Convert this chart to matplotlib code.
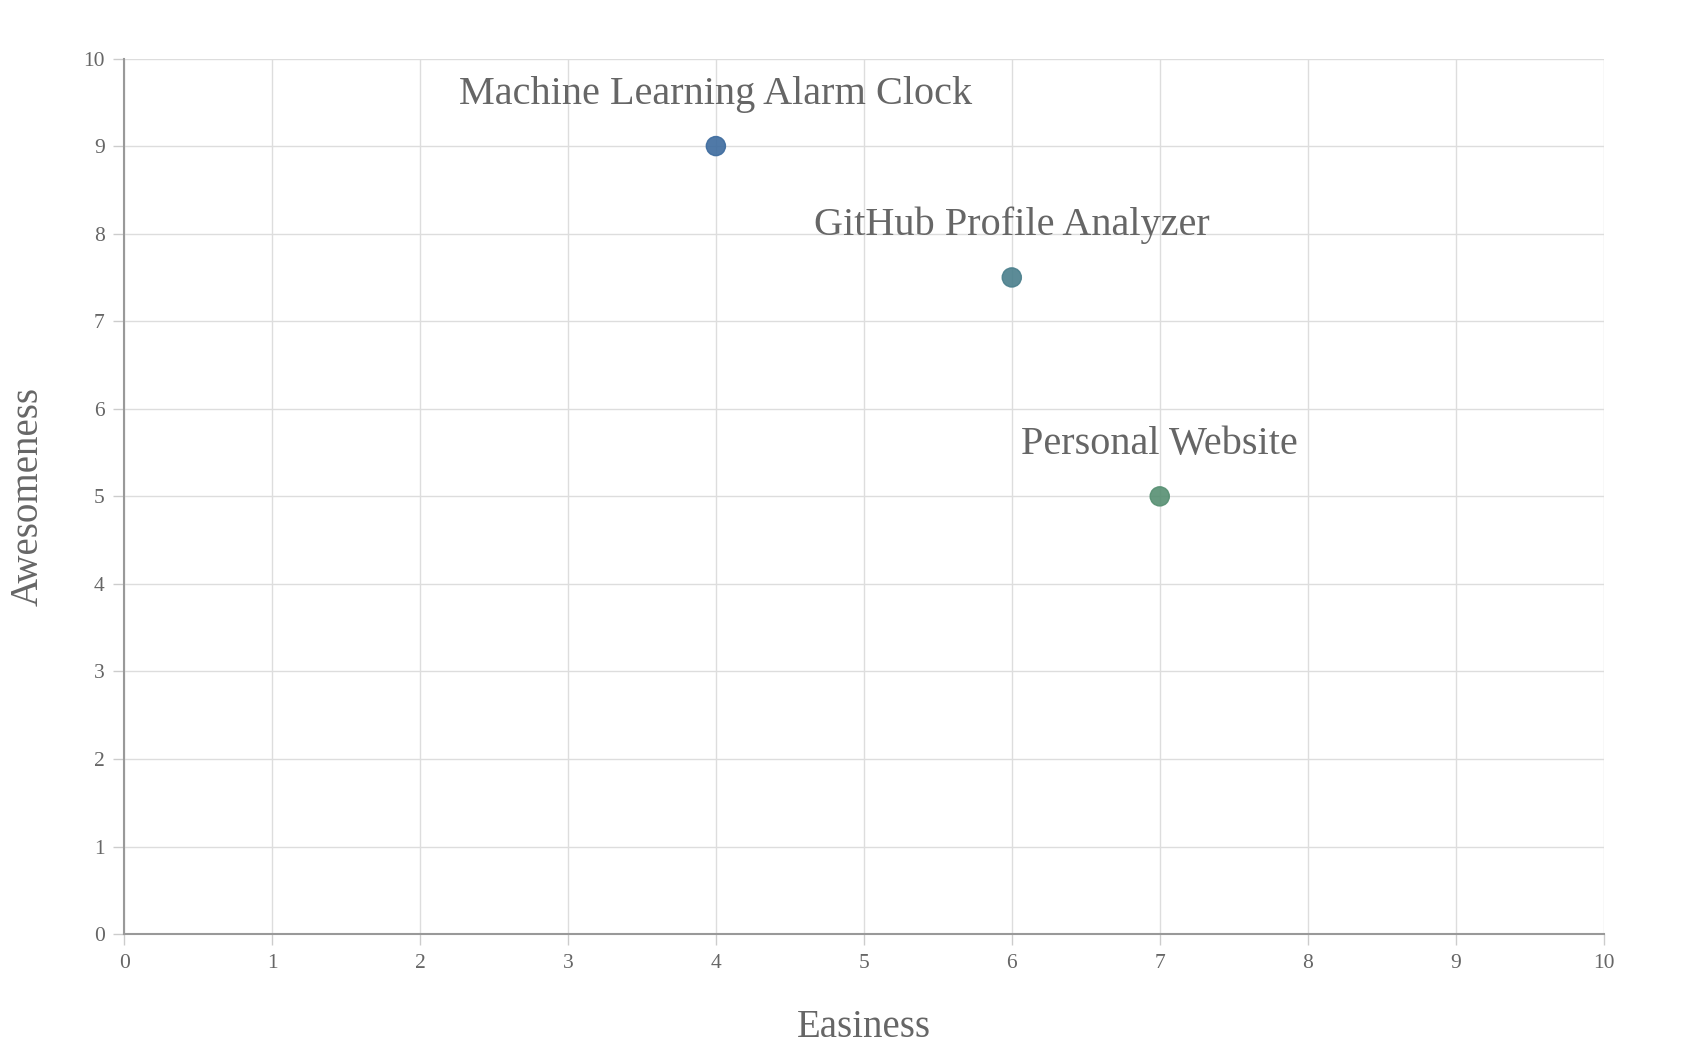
import matplotlib
matplotlib.use('Agg')
import matplotlib.pyplot as plt

projects = ['Machine Learning Alarm Clock', 'GitHub Profile Analyzer', 'Personal Website']
easiness = [4, 6, 7]
awesomeness = [9, 7.5, 5]
colors = ['#3d6b9e', '#4a7f8c', '#568f72']

plt.rcParams['font.family'] = ['Liberation Serif', 'DejaVu Serif']

fig = plt.figure(figsize=(16.88, 10.64), dpi=100)
ax = fig.add_axes([0.0735, 0.122, 0.8765, 0.823])

ax.scatter(easiness, awesomeness, s=190, c=colors, edgecolors=colors, linewidths=1, zorder=3, alpha=0.9)
for name, x, y in zip(projects, easiness, awesomeness):
    ax.annotate(name, (x, y), xytext=(0, 24), textcoords='offset points',
                ha='center', va='bottom', fontsize=29, color='#666666')

ax.set_xlim(0, 10)
ax.set_ylim(0, 10)
ax.set_xticks(range(11))
ax.set_yticks(range(11))
ax.grid(True, color='#dddddd', linewidth=1)
ax.set_axisbelow(True)
for s in ['top', 'right']:
    ax.spines[s].set_visible(False)
for s in ['left', 'bottom']:
    ax.spines[s].set_color('#999999')
    ax.spines[s].set_linewidth(1.5)
ax.tick_params(colors='#666666', labelsize=15.5, length=8, width=1, pad=6)
ax.tick_params(axis='both', color='#cccccc')
ax.set_xlabel('Easiness', fontsize=28, color='#666666', labelpad=26)
ax.set_ylabel('Awesomeness', fontsize=28, color='#666666', labelpad=26)

fig.savefig('out.png', dpi=100)
